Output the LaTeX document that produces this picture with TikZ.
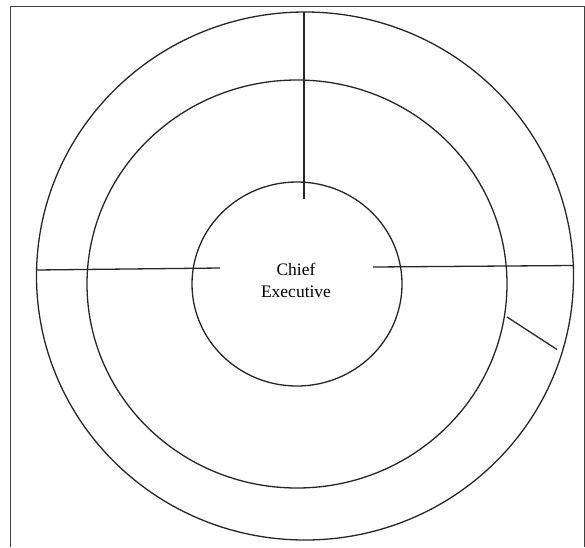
\documentclass[tikz,border=0pt]{standalone}
\usepackage{fontspec}
\setmainfont{Liberation Serif}
\usetikzlibrary{shapes.geometric}
\begin{document}
\begin{tikzpicture}[x=1pt,y=-1pt,
  ring/.style={draw=black!85, line width=1.3pt, ellipse, inner sep=0pt},
  spoke/.style={draw=black!85, line width=1.3pt},
  frameline/.style={draw=black!75, line width=1pt}]
\useasboundingbox (0,0) rectangle (585,547);
\draw[frameline] (10,547) -- (10,6) -- (584,6) -- (584,547);
\node[ring, minimum width=537pt, minimum height=528pt] (outer) at (305,276) {};
\node[ring, minimum width=420pt, minimum height=408pt] (middle) at (297,284) {};
\node[ring, minimum width=210pt, minimum height=204pt] (inner) at (297,284) {};
\node[align=center, font=\fontsize{17.5}{22}\selectfont] (label) at (296,280) {Chief\\Executive};
\coordinate (vtop) at (304,11.5);
\coordinate (vend) at (304,199);
\coordinate (lstart) at (36,270);
\coordinate (lend) at (220,268);
\coordinate (rstart) at (373,267);
\coordinate (rend) at (573,265.5);
\coordinate (dstart) at (507,317);
\coordinate (dend) at (557,349.5);
\draw[spoke] (vtop) -- (vend);
\draw[spoke] (lstart) -- (lend);
\draw[spoke] (rstart) -- (rend);
\draw[spoke] (dstart) -- (dend);
\end{tikzpicture}
\end{document}
